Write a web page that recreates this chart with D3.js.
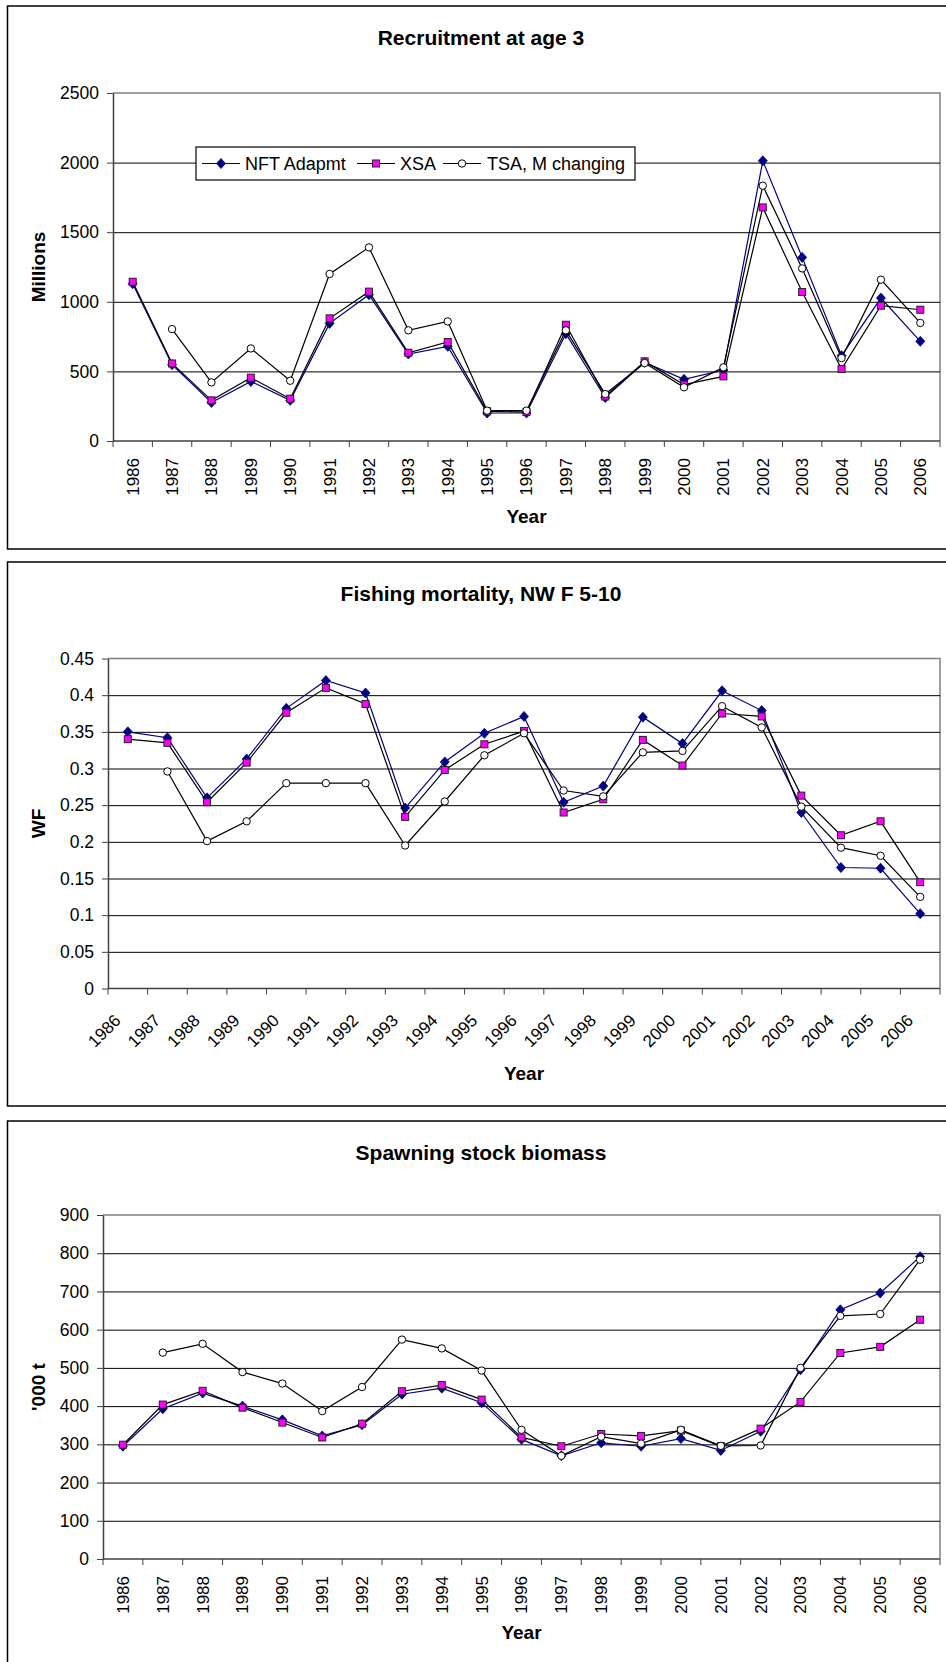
<!DOCTYPE html>
<html>
<head>
<meta charset="utf-8">
<script src="https://cdn.jsdelivr.net/npm/d3@7"></script>
<style>
  html, body { margin: 0; padding: 0; background: #fff; }
  svg { display: block; }
  text { font-family: "Liberation Sans", Arial, sans-serif; fill: #000; }
</style>
</head>
<body>
<svg id="chart" width="946" height="1662"></svg>
<script>
// ---------- DATA ----------
const years = ["1986","1987","1988","1989","1990","1991","1992","1993","1994","1995","1996",
               "1997","1998","1999","2000","2001","2002","2003","2004","2005","2006"];
const seriesNames = ["NFT Adapmt", "XSA", "TSA, M changing"];

// Recruitment at age 3 (millions)
const recNFT = [1130, 548, 277, 428, 292, 845, 1051, 625, 680, 201, 201, 771, 312, 565, 443, 510, 2013, 1319, 613, 1027, 716];
const recXSA = [1144, 557, 292, 455, 304, 881, 1073, 634, 711, 213, 208, 835, 320, 572, 405, 464, 1678, 1070, 517, 972, 943];
const recTSA = [null, 804, 421, 665, 433, 1200, 1391, 795, 859, 218, 218, 795, 337, 560, 386, 529, 1834, 1240, 596, 1159, 848];
const recTicks = [0, 500, 1000, 1500, 2000, 2500];

// Fishing mortality, NW F 5-10
const fNFT = [0.350, 0.342, 0.260, 0.313, 0.382, 0.420, 0.403, 0.246, 0.309, 0.348, 0.371, 0.254, 0.276, 0.370, 0.334, 0.406, 0.379, 0.240, 0.165, 0.164, 0.102];
const fXSA = [0.340, 0.335, 0.254, 0.308, 0.376, 0.410, 0.388, 0.234, 0.298, 0.333, 0.351, 0.240, 0.258, 0.339, 0.304, 0.375, 0.371, 0.263, 0.209, 0.228, 0.145];
const fTSA = [null, 0.296, 0.201, 0.228, 0.280, 0.280, 0.280, 0.195, 0.255, 0.318, 0.348, 0.270, 0.262, 0.322, 0.324, 0.385, 0.356, 0.248, 0.192, 0.181, 0.125];
const fTicks = [0, 0.05, 0.1, 0.15, 0.2, 0.25, 0.3, 0.35, 0.4, 0.45];

// Spawning stock biomass ('000 t)
const ssbNFT = [295, 393, 434, 400, 364, 322, 351, 431, 447, 409, 313, 270, 304, 295, 315, 284, 334, 495, 652, 696, 791];
const ssbXSA = [299, 404, 440, 396, 357, 318, 354, 439, 455, 417, 318, 295, 327, 322, 336, 295, 341, 411, 539, 555, 626];
const ssbTSA = [null, 540, 563, 489, 459, 387, 450, 574, 551, 493, 338, 270, 320, 302, 338, 296, 297, 500, 636, 641, 783];
const ssbTicks = [0, 100, 200, 300, 400, 500, 600, 700, 800, 900];

// ---------- DRAW ----------
const svg = d3.select("#chart");
const NAVY = "#000080", MAGENTA = "#ff00ff";

function drawPanel(cfg) {
  const g = svg.append("g");
  // outer frame
  g.append("rect")
    .attr("x", 7.5).attr("y", cfg.frameTop)
    .attr("width", 946).attr("height", cfg.frameH)
    .attr("fill", "none").attr("stroke", "#000").attr("stroke-width", 1.5);

  // title
  g.append("text")
    .attr("x", 481).attr("y", cfg.frameTop + 38.5)
    .attr("text-anchor", "middle")
    .style("font-size", "21px").style("font-weight", "bold")
    .text(cfg.title);

  const x = d3.scaleBand().domain(years).range([cfg.x0, cfg.x1]).padding(0);
  const y = d3.scaleLinear().domain([0, cfg.yMax]).range([cfg.y0, cfg.y1]);
  const cx = d => x(d) + x.bandwidth() / 2;

  // plot area border (top & right)
  g.append("path")
    .attr("d", `M${cfg.x0},${y(cfg.yMax)}H${cfg.x1}V${cfg.y0}`)
    .attr("fill", "none").attr("stroke", "#808080").attr("stroke-width", 1.5);

  // gridlines
  g.append("g")
    .attr("transform", `translate(${cfg.x0},0)`)
    .call(d3.axisLeft(y).tickValues(cfg.ticks.filter(t => t > 0 && t < cfg.yMax)).tickSize(-(cfg.x1 - cfg.x0)).tickFormat(""))
    .call(s => s.select(".domain").remove())
    .call(s => s.selectAll("line").attr("stroke", "#000").attr("stroke-width", 1));

  // y axis
  const ya = g.append("g")
    .attr("transform", `translate(${cfg.x0},0)`)
    .call(d3.axisLeft(y).tickValues(cfg.ticks).tickSize(6).tickPadding(8).tickSizeOuter(0)
      .tickFormat(d => String(+d.toFixed(2))));
  ya.select(".domain").attr("stroke", "#404040").attr("stroke-width", 1.5);
  ya.selectAll(".tick line").attr("stroke", "#404040");
  ya.selectAll(".tick text").style("font-size", "17.5px").style("font-family", "Liberation Sans, Arial, sans-serif").attr("fill", "#000");

  // x axis line & ticks at category boundaries
  const step = x.step();
  g.append("line")
    .attr("x1", cfg.x0).attr("x2", cfg.x1)
    .attr("y1", cfg.y0).attr("y2", cfg.y0)
    .attr("stroke", "#404040").attr("stroke-width", 1.5);
  g.selectAll(".xt").data(d3.range(years.length + 1)).join("line")
    .attr("x1", i => cfg.x0 + i * step).attr("x2", i => cfg.x0 + i * step)
    .attr("y1", cfg.y0).attr("y2", cfg.y0 + 6)
    .attr("stroke", "#404040").attr("stroke-width", 1);

  // x tick labels
  if (cfg.rot === -90) {
    g.selectAll(".xl").data(years).join("text")
      .attr("transform", d => `translate(${cx(d)},${cfg.y0 + 17}) rotate(-90)`)
      .attr("text-anchor", "end").attr("dy", "0.35em")
      .style("font-size", "17px")
      .text(d => d);
  } else {
    g.selectAll(".xl").data(years).join("text")
      .attr("transform", d => `translate(${cx(d) - 6},${cfg.y0 + 33}) rotate(-45)`)
      .attr("text-anchor", "end")
      .style("font-size", "17px")
      .text(d => d);
  }

  // axis titles
  g.append("text")
    .attr("x", (cfg.x0 + cfg.x1) / 2).attr("y", cfg.yearY)
    .attr("text-anchor", "middle")
    .style("font-size", "19px").style("font-weight", "bold")
    .text("Year");
  g.append("text")
    .attr("transform", `translate(38,${(cfg.y0 + y(cfg.yMax)) / 2}) rotate(-90)`)
    .attr("text-anchor", "middle").attr("dy", "0.35em")
    .style("font-size", "19px").style("font-weight", "bold")
    .text(cfg.yLabel);

  // series
  const series = [
    { vals: cfg.nft, color: NAVY, marker: "diamond" },
    { vals: cfg.xsa, color: "#000", marker: "square" },
    { vals: cfg.tsa, color: "#000", marker: "circle" }
  ];
  const line = d3.line()
    .defined(d => d.v !== null)
    .x(d => cx(d.yr)).y(d => y(d.v));
  series.forEach(s => {
    const pts = years.map((yr, i) => ({ yr, v: s.vals[i] }));
    g.append("path").datum(pts)
      .attr("d", line).attr("fill", "none")
      .attr("stroke", s.color).attr("stroke-width", 1.2);
    drawMarkers(g, pts.filter(p => p.v !== null).map(p => [cx(p.yr), y(p.v)]), s.marker);
  });
}

function drawMarkers(g, coords, type) {
  if (type === "diamond") {
    g.selectAll(null).data(coords).join("path")
      .attr("d", d => `M${d[0]},${d[1] - 5}L${d[0] + 4.5},${d[1]}L${d[0]},${d[1] + 5}L${d[0] - 4.5},${d[1]}Z`)
      .attr("fill", NAVY).attr("stroke", NAVY).attr("stroke-width", 0.8);
  } else if (type === "square") {
    g.selectAll(null).data(coords).join("rect")
      .attr("x", d => d[0] - 3.5).attr("y", d => d[1] - 3.5)
      .attr("width", 7).attr("height", 7)
      .attr("fill", MAGENTA).attr("stroke", "#222").attr("stroke-width", 1);
  } else {
    g.selectAll(null).data(coords).join("circle")
      .attr("cx", d => d[0]).attr("cy", d => d[1]).attr("r", 3.7)
      .attr("fill", "#fff").attr("stroke", "#000").attr("stroke-width", 1);
  }
}

function drawLegend(x0, y0, w, h) {
  const g = svg.append("g");
  g.append("rect").attr("x", x0).attr("y", y0).attr("width", w).attr("height", h)
    .attr("fill", "#fff").attr("stroke", "#000").attr("stroke-width", 1.2);
  const items = [
    { name: seriesNames[0], color: NAVY, marker: "diamond", lx: 202, tx: 245 },
    { name: seriesNames[1], color: "#000", marker: "square", lx: 357, tx: 400 },
    { name: seriesNames[2], color: "#000", marker: "circle", lx: 443, tx: 487 }
  ];
  const cy = y0 + h / 2;
  items.forEach(it => {
    g.append("line").attr("x1", it.lx).attr("x2", it.lx + 38).attr("y1", cy).attr("y2", cy)
      .attr("stroke", it.color).attr("stroke-width", 1.2);
    drawMarkers(g, [[it.lx + 19, cy]], it.marker);
    g.append("text").attr("x", it.tx).attr("y", cy).attr("dy", "0.36em")
      .style("font-size", "18px").text(it.name);
  });
}

drawPanel({
  frameTop: 6, frameH: 543, title: "Recruitment at age 3",
  x0: 113, x1: 940, y0: 441, y1: 93, yMax: 2500, ticks: recTicks,
  rot: -90, yearY: 523, yLabel: "Millions",
  nft: recNFT, xsa: recXSA, tsa: recTSA
});
drawLegend(196, 147, 439, 33);

drawPanel({
  frameTop: 562, frameH: 544, title: "Fishing mortality, NW F 5-10",
  x0: 108, x1: 940, y0: 988.5, y1: 658.5, yMax: 0.45, ticks: fTicks,
  rot: -45, yearY: 1079.5, yLabel: "WF",
  nft: fNFT, xsa: fXSA, tsa: fTSA
});

drawPanel({
  frameTop: 1121, frameH: 600, title: "Spawning stock biomass",
  x0: 103, x1: 940, y0: 1559, y1: 1215, yMax: 900, ticks: ssbTicks,
  rot: -90, yearY: 1638.5, yLabel: "'000 t",
  nft: ssbNFT, xsa: ssbXSA, tsa: ssbTSA
});
</script>
</body>
</html>
